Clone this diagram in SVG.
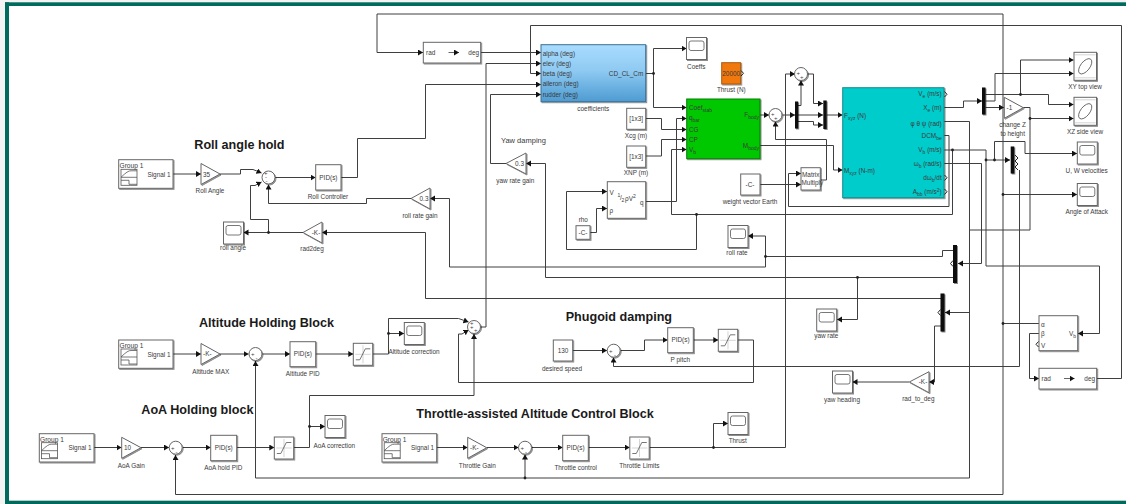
<svg xmlns="http://www.w3.org/2000/svg" width="1126" height="504" viewBox="0 0 1126 504">
<style>
text{font-family:"Liberation Sans",Arial,sans-serif;font-size:6.4px;fill:#3a3a3a}
.m{text-anchor:middle}
.e{text-anchor:end}
.h{font-size:12.6px;font-weight:bold;fill:#1a1a1a}
.s{font-size:6px;fill:#444}
.b{fill:#fff;stroke:#666;stroke-width:1;filter:url(#sh)}
.w{fill:none;stroke:#3f3f3f;stroke-width:1;marker-end:url(#ar)}
.n{fill:none;stroke:#3f3f3f;stroke-width:1}
.d{fill:#222}
.bar{fill:#0a0a0a;filter:url(#sh)}
.ch{fill:none;stroke:#222;stroke-width:1}
.i{fill:none;stroke:#555;stroke-width:.8}
.a{fill:none;stroke:#aaa;stroke-width:.5}
</style>
<defs>
<filter id="sh" x="-20%" y="-20%" width="150%" height="150%"><feDropShadow dx="1" dy="1" stdDeviation=".7" flood-color="#000" flood-opacity=".45"/></filter>
<marker id="ar" markerUnits="userSpaceOnUse" markerWidth="7" markerHeight="7" refX="5" refY="3" orient="auto"><path d="M0 0L5 3L0 6Z" fill="#111"/></marker>
<linearGradient id="blue" x1="0" y1="0" x2="0" y2="1"><stop offset="0" stop-color="#a9dcff"/><stop offset=".45" stop-color="#8fcaf2"/><stop offset="1" stop-color="#4d9bd2"/></linearGradient>
<g id="scp"><rect class="b" width="20" height="22"/><rect class="i" x="2.5" y="3.5" width="15" height="9.5" rx="2" stroke-width="1"/></g>
<g id="xy"><rect class="b" width="22.5" height="28"/><path class="a" d="M1 2.5H21.5M1 25.5H21.5"/><ellipse cx="11.2" cy="14" rx="9" ry="4.6" transform="rotate(-52 11.2 14)" class="i"/></g>
<g id="sat"><rect class="b" width="19.4" height="22"/><path class="a" d="M2 11H17.5M9.7 2V20"/><path class="i" d="M2.5 16.5H6.5L12 5.5H17" stroke="#333"/></g>
<g id="sig"><rect x="0" y="0" width="16" height="16" class="i"/><path class="i" d="M0 8H16M0 8Q7 1 10 1.5H16M0 11H8V15H16"/></g>
</defs>

<rect width="1126" height="504" fill="#f3f3f3"/>
<rect x="9" y="6" width="1117" height="494.5" fill="#fff"/>
<rect x="5" y="2.3" width="1121" height="3.7" fill="#006a5c"/>
<rect x="5" y="2.3" width="4" height="501.7" fill="#006a5c"/>
<rect x="5" y="500.7" width="1121" height="3.3" fill="#006a5c"/>

<g id="connectors">
<path class="w" d="M173 174H201"/>
<path class="w" d="M220 174H240.5V169.5H253L261.5 173"/>
<path class="w" d="M268.5 232.5V219.5H250.5V185.5H255L261.5 182"/>
<path class="w" d="M275 177.5H315.5"/>
<path class="w" d="M341 177.5H357.5V138.5H425.5V84.5H541"/>
<path class="w" d="M411 198.5H366.5V203.5H268.5V184.5"/>
<path class="w" d="M303 232.5H243.5"/>
<path class="w" d="M942 298.5H425.5V232.5H322"/>
<path class="w" d="M953 250.5H942.5V256.5H765.5V267H449.5V198.5H430"/>
<path class="w" d="M765.5 256.5V236H748"/>
<path class="w" d="M953 277.5H545.5V163.5H526"/>
<path class="w" d="M857.5 277.5V319.5H837"/>
<path class="w" d="M506 163.5H490.5V94.5H541"/>
<path class="w" d="M943.5 163.5H981.5V263.5H958"/>
<path class="w" d="M943.5 121.5H969.5V312.5H945"/>
<path class="w" d="M941 326H934.5V382H929"/>
<path class="w" d="M909 382H852.5"/>
<path class="w" d="M1039 323.5H1003V14H377V52.5H423"/>
<path class="w" d="M1003 323.5V494.5H175.5V455"/>
<path class="w" d="M1003 194.5H1077"/>
<path class="w" d="M480.7 52.5H541"/>
<path class="w" d="M1096.7 378.5H1121.5V25.5H530.5V73.5H541"/>
<path class="w" d="M480.3 327H486V63.5H541"/>
<path class="w" d="M645.7 73.5H653.5V48.5H686.5"/>
<path class="w" d="M653.5 73.5V107.5H686.5"/>
<path class="w" d="M645.7 118.5H661.5V129.5H686.5"/>
<path class="w" d="M645.7 156H661.5V139.5H686.5"/>
<path class="w" d="M645.7 201.5H676.5V118.5H686.5"/>
<path class="w" d="M943.5 150H986V266H1099.5V333.5H1078"/>
<path class="w" d="M986 160H1010"/>
<path class="w" d="M994.5 160V141.5H1025V153.5H1077"/>
<path class="w" d="M952.5 150V214.5H671.5V149.5H686.5"/>
<path class="w" d="M696.5 214.5V249.5H566.5V191.5H607"/>
<path class="w" d="M590 232.5H596.5V208.5H607"/>
<path class="w" d="M943.5 135.5H949V206.5H788.5V173.5H801"/>
<path class="w" d="M760 184.5H801"/>
<path class="w" d="M820.3 180H826.5V139.5H775.5V121.5"/>
<path class="w" d="M760 115H769"/>
<path class="w" d="M782.3 115H795"/>
<path class="w" d="M798 105.5H801V80.5"/>
<path class="w" d="M798 115H823"/>
<path class="w" d="M798 121.5H813.5V125H823"/>
<path class="w" d="M807.5 74H813.5V103.5H823"/>
<path class="w" d="M826.7 115H842.5"/>
<path class="w" d="M760 145.5H833.5V170H842.5"/>
<path class="w" d="M649.3 447.5H785.5V74H795"/>
<path class="w" d="M713.5 447.5V423.5H728"/>
<path class="w" d="M985.5 107.5H1004"/>
<path class="w" d="M1023.3 107.5H1030V230H969.5V478H255.5V361"/>
<path class="w" d="M525 478V454.5"/>
<path class="w" d="M1030 118.5H1073.5"/>
<path class="w" d="M943.5 107.5H963.5V101H982"/>
<path class="w" d="M985.5 94.5H1048.5V104.5H1073.5"/>
<path class="w" d="M1020.5 94.5V60H1073.5"/>
<path class="w" d="M985.5 101H995V73.5H1073.5"/>
<path class="w" d="M1019.5 170V366.5H613.5V357.5"/>
<path class="w" d="M737.7 340H753.5V382.5H458.5V334H462L468.5 330"/>
<path class="w" d="M572.7 350.5H607"/>
<path class="w" d="M620.3 350.5H644.5V340H667.7"/>
<path class="w" d="M693.3 340H718.3"/>
<path class="w" d="M1039 333.5H1029.5V378.5H1039"/>
<path class="w" d="M173 354H201"/>
<path class="w" d="M220 354H248.5"/>
<path class="w" d="M262 354H290"/>
<path class="w" d="M315.7 354H353.3"/>
<path class="w" d="M372.7 354H388.5V318.5H458.5L468.5 322"/>
<path class="w" d="M388.5 333.5H404"/>
<path class="w" d="M94 447.5H121.5"/>
<path class="w" d="M141 447.5H169"/>
<path class="w" d="M182.5 447.5H210.7"/>
<path class="w" d="M236.7 447.5H274.3"/>
<path class="w" d="M293.7 447.5H309.5V426.5H325"/>
<path class="w" d="M309.5 426.5V395.5H474V334"/>
<path class="w" d="M436.7 447.5H467.5"/>
<path class="w" d="M486.7 447.5H518.5"/>
<path class="w" d="M531.5 447.5H562.7"/>
<path class="w" d="M588.3 447.5H629.7"/>
<circle class="d" cx="268.5" cy="232.5" r="1.4"/>
<circle class="d" cx="653.5" cy="73.5" r="1.4"/>
<circle class="d" cx="696.5" cy="214.5" r="1.4"/>
<circle class="d" cx="765.5" cy="256.5" r="1.4"/>
<circle class="d" cx="857.5" cy="277.5" r="1.4"/>
<circle class="d" cx="952.5" cy="150" r="1.4"/>
<circle class="d" cx="986" cy="160" r="1.4"/>
<circle class="d" cx="994.5" cy="160" r="1.4"/>
<circle class="d" cx="1020.5" cy="94.5" r="1.4"/>
<circle class="d" cx="1030" cy="118.5" r="1.4"/>
<circle class="d" cx="1003" cy="194.5" r="1.4"/>
<circle class="d" cx="1003" cy="323.5" r="1.4"/>
<circle class="d" cx="388.5" cy="333.5" r="1.4"/>
<circle class="d" cx="309.5" cy="426.5" r="1.4"/>
<circle class="d" cx="525" cy="478" r="1.4"/>
<circle class="d" cx="713.5" cy="447.5" r="1.4"/>
</g>

<g id="titles">
<text class="h" x="194.3" y="149">Roll angle hold</text>
<text class="h" x="199" y="327">Altitude Holding Block</text>
<text class="h" x="141.3" y="414">AoA Holding block</text>
<text class="h" x="565.7" y="320.5">Phugoid damping</text>
<text class="h" x="416.3" y="417.5">Throttle-assisted Altitude Control Block</text>
<text x="501" y="142.5" style="font-size:7.5px">Yaw damping</text>
</g>

<g id="sig-roll"><rect class="b" x="118.7" y="159.7" width="54.3" height="28.6"/><use href="#sig" x="121" y="169.3"/><text x="119.5" y="168" style="font-size:6.6px">Group 1</text><text class="e" x="170.5" y="176.5">Signal 1</text></g>
<g id="gain-roll"><path class="b" d="M201 163.5L220 174L201 184.5Z"/><text x="203" y="176.5">35</text><text class="m" x="210" y="192.5">Roll Angle</text></g>
<g id="sum-roll"><circle class="b" cx="268.5" cy="177.5" r="6.5"/><text class="s" x="264" y="175">+</text><text class="s" x="265" y="179">-</text><text class="s" x="265.5" y="183">-</text></g>
<g id="pid-roll"><rect class="b" x="315.7" y="164.7" width="25.3" height="25.3"/><text class="m" x="328.4" y="179.8">PID(s)</text><text class="m" x="328" y="199">Roll Controller</text></g>
<g id="scope-roll-angle"><use href="#scp" x="223.5" y="222"/><text class="m" x="233" y="250">roll angle</text></g>
<g id="gain-rad2deg"><path class="b" d="M303 232.5L322 222L322 243Z"/><text class="m" x="316" y="235">-K-</text><text class="m" x="312" y="251">rad2deg</text></g>
<g id="gain-roll-rate"><path class="b" d="M411 198.5L430 188L430 209Z"/><text class="m" x="424" y="200.8">0.3</text><text class="m" x="420" y="217.5">roll rate gain</text></g>
<g id="gain-yaw-rate"><path class="b" d="M506 163.5L526 153L526 174Z"/><text class="m" x="519.5" y="165.8">0.3</text><text class="m" x="515.3" y="182.5">yaw rate gain</text></g>

<g id="rad-deg-1"><rect class="b" x="423.3" y="42.3" width="57.4" height="20.7"/><text x="426" y="54.5">rad</text><path class="w" style="stroke-width:.8" d="M448.5 52.5H459"/><text class="e" x="479" y="54.5">deg</text></g>
<g id="coefficients"><rect x="541" y="44.7" width="104.7" height="57" fill="url(#blue)" stroke="#3f6f92" stroke-width="1" filter="url(#sh)"/><text x="542.7" y="55.5">alpha (deg)</text><text x="542.7" y="65.8">elev (deg)</text><text x="542.7" y="76.1">beta (deg)</text><text x="542.7" y="86.4">aileron (deg)</text><text x="542.7" y="96.8">rudder (deg)</text><text class="e" x="643.3" y="76">CD_CL_Cm</text><text class="m" x="593.3" y="110.5">coefficients</text></g>
<g id="scope-coeffs"><use href="#scp" x="686.5" y="37.5"/><text class="m" x="696.3" y="69">Coeffs</text></g>
<g id="thrust"><rect x="721.7" y="62.7" width="19" height="21.3" fill="#f0780f" stroke="#a85a10" filter="url(#sh)"/><text class="m" x="731.2" y="75.7">20000</text><path class="ch" d="M741 70.5L743.5 73.3L741 76"/><text class="m" x="731.3" y="92.3">Thrust (N)</text></g>
<g id="xcg"><rect class="b" x="626.7" y="108.3" width="19" height="21"/><text class="m" x="636.2" y="120.8">[1x3]</text><text class="m" x="636" y="137.5">Xcg (m)</text></g>
<g id="xnp"><rect class="b" x="626.7" y="146" width="19" height="21.3"/><text class="m" x="636.2" y="158.5">[1x3]</text><text class="m" x="636" y="175.3">XNP (m)</text></g>
<g id="dyn-pressure"><rect class="b" x="607.3" y="181.7" width="38.4" height="36.6"/><text x="609.5" y="194.5">V</text><text x="609.5" y="212.5">ρ</text><text x="617.5" y="197" style="font-size:5px">1</text><text x="620" y="199.5">/</text><text x="621.5" y="202" style="font-size:5px">2</text><text x="625" y="200.5">ρV<tspan dy="-2.5" style="font-size:5px">2</tspan></text><text x="640" y="205">q</text></g>
<g id="rho"><rect class="b" x="576" y="225.7" width="14" height="13.6"/><text class="m" x="583" y="234.8">-C-</text><text class="m" x="583.3" y="221.5">rho</text></g>
<g id="forces"><rect x="686.7" y="99" width="73.3" height="59.7" fill="#00c800" stroke="#0a7a0a" filter="url(#sh)"/><text x="689" y="110">Coef<tspan dy="2" style="font-size:5px">stab</tspan></text><text x="689" y="120.3">q<tspan dy="2" style="font-size:5px">bar</tspan></text><text x="689" y="131.6">CG</text><text x="689" y="141.6">CP</text><text x="689" y="151.6">V<tspan dy="2" style="font-size:5px">b</tspan></text><text class="e" x="759" y="117">F<tspan dy="2" style="font-size:5px">body</tspan></text><text class="e" x="759" y="147.5">M<tspan dy="2" style="font-size:5px">body</tspan></text></g>
<g id="scope-roll-rate"><use href="#scp" x="728" y="225.5"/><text class="m" x="737" y="255">roll rate</text></g>
<g id="const-weight"><rect class="b" x="740.7" y="174" width="19.3" height="21"/><text class="m" x="750" y="186.8">-C-</text><text class="m" x="750" y="203.5">weight vector Earth</text></g>
<g id="sum-f"><circle class="b" cx="775.5" cy="115" r="6.5"/><text class="s" x="771" y="115.5">+</text><text class="s" x="774" y="120">+</text></g>
<g id="sum-top"><circle class="b" cx="801" cy="74" r="6.5"/><text class="s" x="796.5" y="74.5">+</text><text class="s" x="800" y="79">+</text></g>
<g id="mux-a"><rect class="bar" x="795" y="101.5" width="3.2" height="27"/></g>
<g id="mux-b"><rect class="bar" x="823.3" y="100.5" width="3.4" height="28.5"/></g>
<g id="matrix"><rect class="b" x="801" y="167.7" width="19.3" height="22.3"/><text x="802" y="177">Matrix</text><text x="801.5" y="185">Multiply</text></g>
<g id="plant"><rect x="842.7" y="87.7" width="101.3" height="110" fill="#00cccc" stroke="#1a8a8a" filter="url(#sh)"/>
<text x="844" y="117.5">F<tspan dy="2" style="font-size:5px">xyz</tspan><tspan dy="-2"> (N)</tspan></text>
<text x="844" y="172.5">M<tspan dy="2" style="font-size:5px">xyz</tspan><tspan dy="-2"> (N-m)</tspan></text>
<text class="e" x="941.7" y="96.3">V<tspan dy="2" style="font-size:5px">e</tspan><tspan dy="-2"> (m/s)</tspan></text>
<text class="e" x="941.7" y="110">X<tspan dy="2" style="font-size:5px">e</tspan><tspan dy="-2"> (m)</tspan></text>
<text class="e" x="941.7" y="125.5">φ θ ψ (rad)</text>
<text class="e" x="941.7" y="138">DCM<tspan dy="2" style="font-size:5px">be</tspan></text>
<text class="e" x="941.7" y="152.3">V<tspan dy="2" style="font-size:5px">b</tspan><tspan dy="-2"> (m/s)</tspan></text>
<text class="e" x="941.7" y="165.8">ω<tspan dy="2" style="font-size:5px">b</tspan><tspan dy="-2"> (rad/s)</tspan></text>
<text class="e" x="941.7" y="179.8">dω<tspan dy="2" style="font-size:5px">b</tspan><tspan dy="-2">/dt</tspan></text>
<text class="e" x="941.7" y="193.8">A<tspan dy="2" style="font-size:5px">bb</tspan><tspan dy="-2"> (m/s</tspan><tspan dy="-2" style="font-size:5px">2</tspan><tspan dy="2">)</tspan></text>
<path class="ch" d="M944.5 91.5L947 94.3L944.5 97M944.5 175L947 177.7L944.5 180.5M944.5 189L947 191.7L944.5 194.5"/></g>
<g id="mux-xe"><rect class="bar" x="982" y="87.5" width="3.5" height="27"/></g>
<g id="gain-z"><path class="b" d="M1004.3 97.3L1023.3 107.7L1004.3 118.3Z"/><text x="1006.5" y="110">-1</text><text class="m" x="1012.7" y="127.2">change Z</text><text class="m" x="1012.7" y="136">to height</text></g>
<g id="xy-top"><use href="#xy" x="1074" y="52.3"/><text class="m" x="1085" y="89.2">XY top view</text></g>
<g id="xz-side"><use href="#xy" x="1074" y="97.3"/><text class="m" x="1085" y="134">XZ side view</text></g>
<g id="mux-c"><rect class="bar" x="1010.7" y="146.5" width="3.6" height="27"/><path class="ch" d="M1015 155L1018 158L1015 161L1018 164L1015 167L1018 170"/></g>
<g id="scope-uw"><use href="#scp" x="1077.3" y="142"/><text class="m" x="1086.7" y="173">U, W velocities</text></g>
<g id="scope-aoa"><use href="#scp" x="1077.3" y="183.5"/><text class="m" x="1086.7" y="214.2">Angle of Attack</text></g>
<g id="mux-roll"><rect class="bar" x="953" y="245" width="4" height="38"/><path class="ch" d="M953 260.5L950.5 263.5L953 266.5"/></g>
<g id="mux-yaw"><rect class="bar" x="940.5" y="293.5" width="4" height="38"/><path class="ch" d="M940.5 309.5L938 312.5L940.5 315.5"/></g>
<g id="scope-yaw-rate"><use href="#scp" x="816.7" y="309"/><text class="m" x="826.3" y="338">yaw rate</text></g>
<g id="scope-yaw-heading"><use href="#scp" x="832.5" y="371"/><text class="m" x="842" y="402">yaw heading</text></g>
<g id="gain-yaw"><path class="b" d="M909.3 382L929 371.7L929 392.7Z"/><text class="m" x="923" y="384.3">-K-</text><text class="m" x="918.3" y="401">rad_to_deg</text></g>
<g id="incidence"><rect class="b" x="1039" y="315.7" width="38.7" height="35"/><text x="1041" y="327">α</text><text x="1041" y="336">β</text><text x="1041" y="347.5">V</text><text class="e" x="1076" y="336">V<tspan dy="2" style="font-size:5px">b</tspan></text><path class="ch" d="M1038.5 341.5L1036 344.3L1038.5 347"/></g>
<g id="rad-deg-2"><rect class="b" x="1039" y="368.3" width="57.7" height="20.7"/><text x="1041.5" y="380.5">rad</text><path class="w" style="stroke-width:.8" d="M1064 378.5H1074.5"/><text class="e" x="1095" y="380.5">deg</text></g>

<g id="sig-alt"><rect class="b" x="118.7" y="340" width="54.3" height="28.3"/><use href="#sig" x="121" y="349"/><text x="119.5" y="348" style="font-size:6.6px">Group 1</text><text class="e" x="170.5" y="356.5">Signal 1</text></g>
<g id="gain-alt"><path class="b" d="M201 343.5L220 354L201 364.5Z"/><text x="203" y="356.3">-K-</text><text class="m" x="210.7" y="373.8">Altitude MAX</text></g>
<g id="sum-alt"><circle class="b" cx="255.5" cy="354" r="6.5"/><text class="s" x="251" y="356">+</text><text class="s" x="255.5" y="360">-</text></g>
<g id="pid-alt"><rect class="b" x="290" y="341.7" width="25.7" height="25"/><text class="m" x="302.8" y="356.3">PID(s)</text><text class="m" x="302.7" y="375.5">Altitude PID</text></g>
<g id="sat-alt"><use href="#sat" x="353.3" y="343.3"/></g>
<g id="scope-alt"><use href="#scp" x="404.3" y="322.5"/><text class="m" x="414" y="354">Altitude correction</text></g>
<g id="sum-pitch"><circle class="b" cx="474" cy="327" r="6.5"/><text class="s" x="470" y="325">+</text><text class="s" x="470" y="329">+</text><text class="s" x="474" y="331.5">+</text></g>

<g id="const-speed"><rect class="b" x="553.3" y="340" width="19.4" height="21"/><text class="m" x="563" y="352.7">130</text><text class="m" x="562" y="370.5">desired speed</text></g>
<g id="sum-speed"><circle class="b" cx="613.7" cy="350.7" r="6.5"/><text class="s" x="609" y="352.5">+</text><text class="s" x="614" y="356.5">-</text></g>
<g id="pid-pitch"><rect class="b" x="667.7" y="327.7" width="25.6" height="25"/><text class="m" x="680.5" y="342.3">PID(s)</text><text class="m" x="680.3" y="362">P pitch</text></g>
<g id="sat-pitch"><use href="#sat" x="718.3" y="329.3"/></g>

<g id="sig-aoa"><rect class="b" x="39.3" y="433.7" width="54.7" height="28.3"/><use href="#sig" x="41.5" y="442.7"/><text x="40" y="441.7" style="font-size:6.6px">Group 1</text><text class="e" x="91.5" y="450.2">Signal 1</text></g>
<g id="gain-aoa"><path class="b" d="M121.7 437.3L141 447.7L121.7 458.3Z"/><text x="124" y="450">10</text><text class="m" x="131.3" y="467.5">AoA Gain</text></g>
<g id="sum-aoa"><circle class="b" cx="175.7" cy="447.7" r="6.5"/><text class="s" x="171" y="449.5">+</text><text class="s" x="175.5" y="453.5">-</text></g>
<g id="pid-aoa"><rect class="b" x="210.7" y="435.3" width="26" height="25.4"/><text class="m" x="223.7" y="450">PID(s)</text><text class="m" x="223.3" y="469.5">AoA hold PID</text></g>
<g id="sat-aoa"><use href="#sat" x="274.3" y="437"/></g>
<g id="scope-aoa-corr"><use href="#scp" x="325" y="415.5"/><text class="m" x="334.3" y="447.5">AoA correction</text></g>

<g id="sig-thr"><rect class="b" x="382" y="433.7" width="54.7" height="28.3"/><use href="#sig" x="384.2" y="442.7"/><text x="382.7" y="441.7" style="font-size:6.6px">Group 1</text><text class="e" x="434.2" y="450.2">Signal 1</text></g>
<g id="gain-thr"><path class="b" d="M467.7 437.3L486.7 447.7L467.7 458.3Z"/><text x="470" y="450">-K-</text><text class="m" x="477.3" y="467.5">Throttle Gain</text></g>
<g id="sum-thr"><circle class="b" cx="525" cy="447.7" r="6.5"/><text class="s" x="520.5" y="449.5">+</text><text class="s" x="525" y="453.5">-</text></g>
<g id="pid-thr"><rect class="b" x="562.7" y="435.3" width="25.6" height="25.4"/><text class="m" x="575.5" y="450">PID(s)</text><text class="m" x="575.7" y="469.5">Throttle control</text></g>
<g id="sat-thr"><use href="#sat" x="629.8" y="437"/><text class="m" x="639.3" y="467.5">Throttle Limits</text></g>
<g id="scope-thrust"><use href="#scp" x="728" y="412.5"/><text class="m" x="737.7" y="443.2">Thrust</text></g>
</svg>
